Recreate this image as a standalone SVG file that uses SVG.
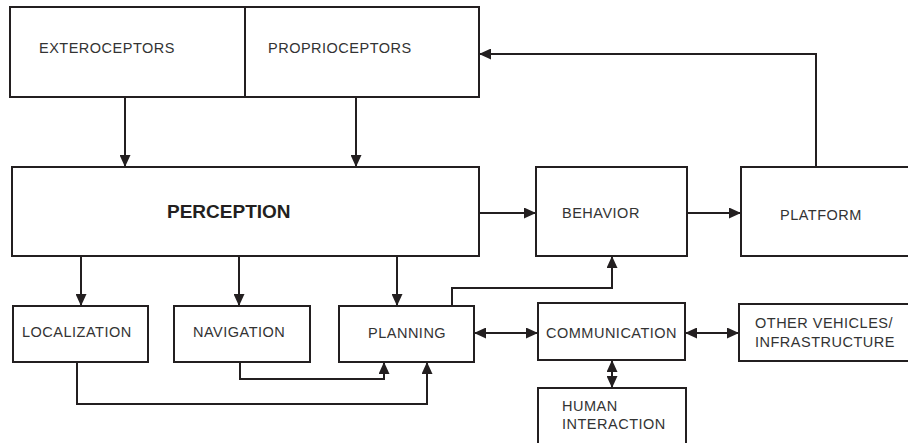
<svg xmlns="http://www.w3.org/2000/svg" width="908" height="443" viewBox="0 0 908 443">
<style>
.box{fill:#fff;stroke:#231f20;stroke-width:2}
.lbl{font-family:"Liberation Sans",Arial,sans-serif;font-size:14.5px;letter-spacing:0.5px;fill:#333}
.big{font-family:"Liberation Sans",Arial,sans-serif;font-size:19px;font-weight:bold;fill:#231f20}
.ln{fill:none;stroke:#231f20;stroke-width:2}
</style>
<defs>
<marker id="ah" markerUnits="userSpaceOnUse" markerWidth="12" markerHeight="11" refX="12" refY="5.5" orient="auto">
<path d="M0,0 L12,5.5 L0,11 z" fill="#231f20"/>
</marker>
<marker id="as" markerUnits="userSpaceOnUse" markerWidth="12" markerHeight="11" refX="0" refY="5.5" orient="auto">
<path d="M12,0 L0,5.5 L12,11 z" fill="#231f20"/>
</marker>
</defs>
<rect width="908" height="443" fill="#fff"/>
<g id="connectors">
<path class="ln" d="M125,97 V167" marker-end="url(#ah)"/>
<path class="ln" d="M356,97 V167" marker-end="url(#ah)"/>
<path class="ln" d="M816,167 V54 H479" marker-end="url(#ah)"/>
<path class="ln" d="M479,213 H536" marker-end="url(#ah)"/>
<path class="ln" d="M687,213 H741" marker-end="url(#ah)"/>
<path class="ln" d="M81,256 V306" marker-end="url(#ah)"/>
<path class="ln" d="M239,256 V306" marker-end="url(#ah)"/>
<path class="ln" d="M397,256 V306" marker-end="url(#ah)"/>
<path class="ln" d="M240,362 V379 H384 V362" marker-end="url(#ah)"/>
<path class="ln" d="M77,362 V404 H427 V362" marker-end="url(#ah)"/>
<path class="ln" d="M452,306 V288 H612 V256" marker-end="url(#ah)"/>
<path class="ln" d="M474,333 H538" marker-start="url(#as)" marker-end="url(#ah)"/>
<path class="ln" d="M685,333 H739" marker-start="url(#as)" marker-end="url(#ah)"/>
<path class="ln" d="M612,360 V388" marker-start="url(#as)" marker-end="url(#ah)"/>
</g>
<g id="exteroceptors">
<rect class="box" x="10" y="7" width="235" height="90"/>
<text class="lbl" x="39" y="53">EXTEROCEPTORS</text>
</g>
<g id="proprioceptors">
<rect class="box" x="245" y="7" width="234" height="90"/>
<text class="lbl" x="268" y="53">PROPRIOCEPTORS</text>
</g>
<g id="perception">
<rect class="box" x="12" y="167" width="467" height="89"/>
<text class="big" x="167" y="218">PERCEPTION</text>
</g>
<g id="behavior">
<rect class="box" x="536" y="167" width="151" height="89"/>
<text class="lbl" x="562" y="218">BEHAVIOR</text>
</g>
<g id="platform">
<rect class="box" x="741" y="167" width="180" height="89"/>
<text class="lbl" x="780" y="220">PLATFORM</text>
</g>
<g id="localization">
<rect class="box" x="13" y="306" width="135" height="56"/>
<text class="lbl" x="22" y="337">LOCALIZATION</text>
</g>
<g id="navigation">
<rect class="box" x="174" y="306" width="136" height="56"/>
<text class="lbl" x="193" y="337">NAVIGATION</text>
</g>
<g id="planning">
<rect class="box" x="339" y="306" width="135" height="56"/>
<text class="lbl" x="368" y="338">PLANNING</text>
</g>
<g id="communication">
<rect class="box" x="538" y="303" width="147" height="57"/>
<text class="lbl" x="546" y="338">COMMUNICATION</text>
</g>
<g id="other-vehicles">
<rect class="box" x="739" y="304" width="180" height="57"/>
<text class="lbl" x="755" y="328">OTHER VEHICLES/</text>
<text class="lbl" x="755" y="347">INFRASTRUCTURE</text>
</g>
<g id="human-interaction">
<rect class="box" x="538" y="388" width="148" height="70"/>
<text class="lbl" x="562" y="411">HUMAN</text>
<text class="lbl" x="562" y="429">INTERACTION</text>
</g>
</svg>
